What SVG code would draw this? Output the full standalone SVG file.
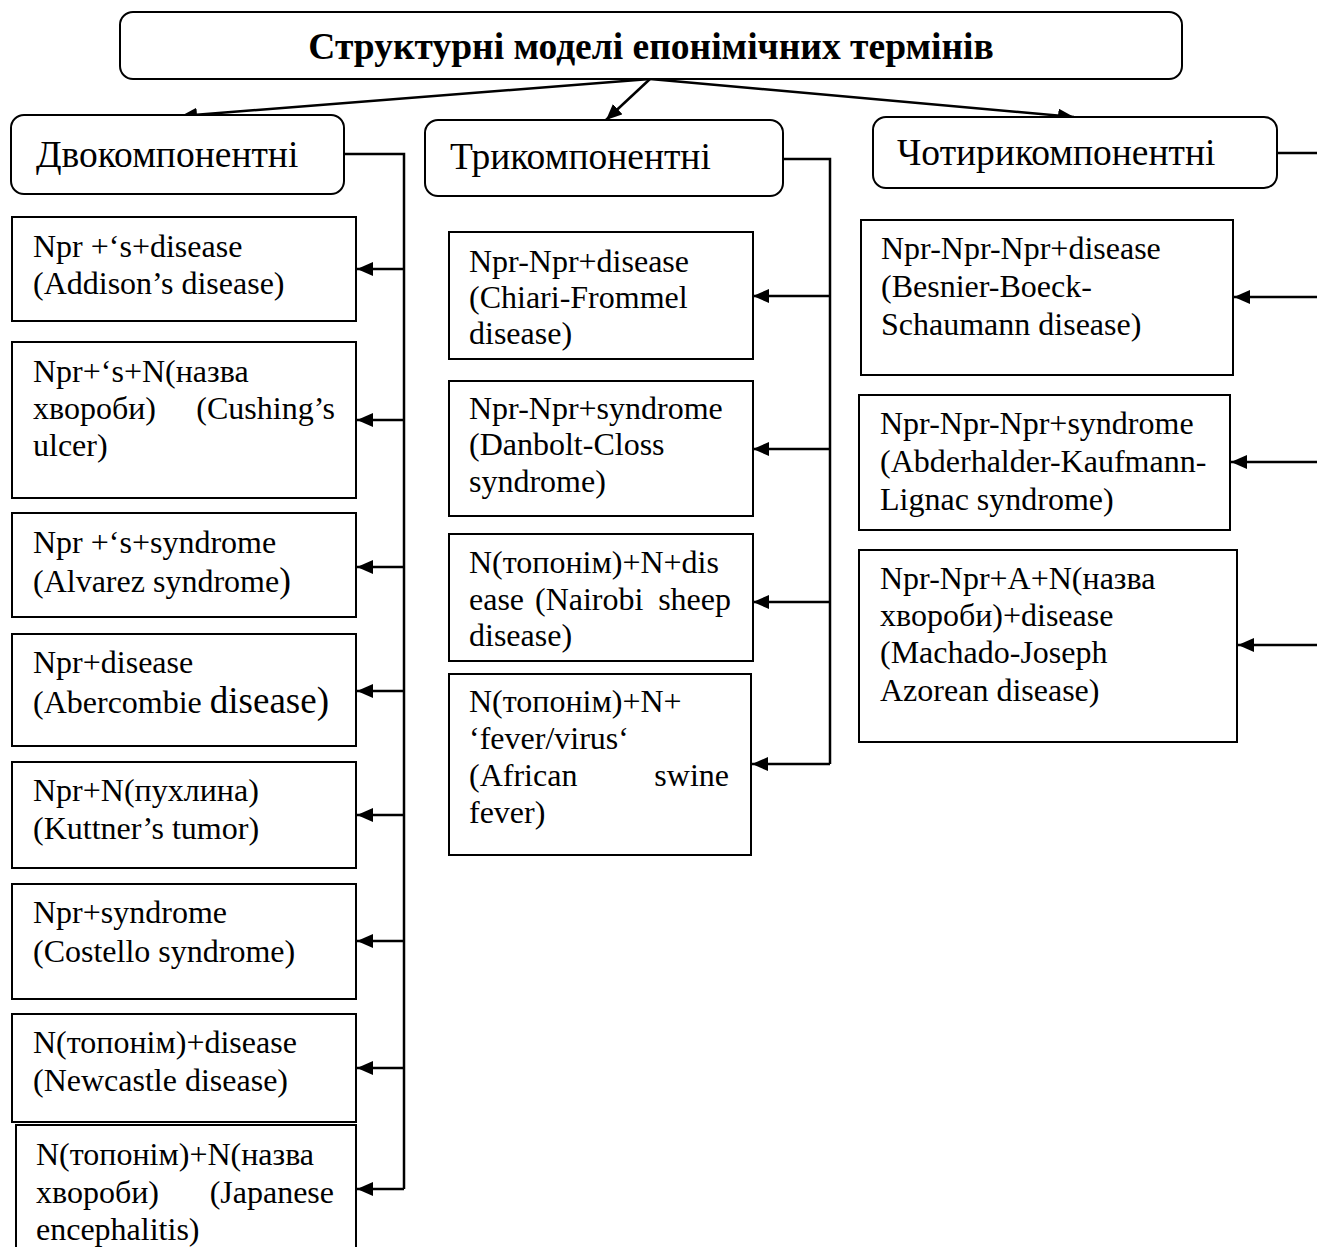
<svg xmlns="http://www.w3.org/2000/svg" width="1317" height="1247" viewBox="0 0 1317 1247">
<style>
text{font-family:"Liberation Serif","Times New Roman",serif;fill:#000}
.t{font-size:32px}
.h{font-size:37.5px}
.ttl{font-size:37.5px;font-weight:bold}
.box{fill:#fff;stroke:#000;stroke-width:2}
.c{fill:none;stroke:#000;stroke-width:2.5}
.e{text-anchor:end}
</style>
<defs>
<marker id="ah" markerUnits="userSpaceOnUse" markerWidth="18" markerHeight="14" refX="16" refY="7" orient="auto"><path d="M0,0 L16,7 L0,14 z" fill="#000"/></marker>
</defs>
<rect width="1317" height="1247" fill="#fff"/>

<g id="connectors">
<path class="c" d="M650,79 L181,116" marker-end="url(#ah)"/>
<path class="c" d="M650,79 L606,120" marker-end="url(#ah)"/>
<path class="c" d="M650,79 L1074,117" marker-end="url(#ah)"/>
<path class="c" d="M344,154 H404 V1189"/>
<path class="c" d="M404,269 H357" marker-end="url(#ah)"/>
<path class="c" d="M404,420 H357" marker-end="url(#ah)"/>
<path class="c" d="M404,567 H357" marker-end="url(#ah)"/>
<path class="c" d="M404,691 H357" marker-end="url(#ah)"/>
<path class="c" d="M404,815 H357" marker-end="url(#ah)"/>
<path class="c" d="M404,941 H357" marker-end="url(#ah)"/>
<path class="c" d="M404,1068 H357" marker-end="url(#ah)"/>
<path class="c" d="M404,1189 H357" marker-end="url(#ah)"/>
<path class="c" d="M783,159 H830 V764"/>
<path class="c" d="M830,296 H753" marker-end="url(#ah)"/>
<path class="c" d="M830,449 H753" marker-end="url(#ah)"/>
<path class="c" d="M830,602 H753" marker-end="url(#ah)"/>
<path class="c" d="M830,764 H752" marker-end="url(#ah)"/>
<path class="c" d="M1277,153 H1317"/>
<path class="c" d="M1317,297 H1234" marker-end="url(#ah)"/>
<path class="c" d="M1317,462 H1231" marker-end="url(#ah)"/>
<path class="c" d="M1317,645 H1238" marker-end="url(#ah)"/>
</g>

<g id="title">
<rect class="box" x="120" y="12" width="1062" height="67" rx="13"/>
<text class="ttl" x="651" y="59" text-anchor="middle">Структурні моделі епонімічних термінів</text>
</g>

<g id="dvo">
<rect class="box" x="11" y="115" width="333" height="79" rx="13"/>
<text class="h" x="36" y="167">Двокомпонентні</text>
</g>
<g id="try">
<rect class="box" x="425" y="120" width="358" height="76" rx="13"/>
<text class="h" x="450" y="169">Трикомпонентні</text>
</g>
<g id="chot">
<rect class="box" x="873" y="117" width="404" height="71" rx="13"/>
<text class="h" x="897" y="165">Чотирикомпонентні</text>
</g>

<g id="l1">
<rect class="box" x="12" y="217" width="344" height="104"/>
<text class="t" x="33" y="257">Npr +‘s+disease</text>
<text class="t" x="33" y="294">(Addison’s disease)</text>
</g>
<g id="l2">
<rect class="box" x="12" y="342" width="344" height="156"/>
<text class="t" x="33" y="382">Npr+‘s+N(назва</text>
<text class="t" x="33" y="419">хвороби)</text>
<text class="t e" x="335" y="419">(Cushing’s</text>
<text class="t" x="33" y="456">ulcer)</text>
</g>
<g id="l3">
<rect class="box" x="12" y="513" width="344" height="104"/>
<text class="t" x="33" y="553">Npr +‘s+syndrome</text>
<text class="t" x="33" y="592">(Alvarez syndrome<tspan font-size="35">)</tspan></text>
</g>
<g id="l4">
<rect class="box" x="12" y="634" width="344" height="112"/>
<text class="t" x="33" y="673">Npr+disease</text>
<text class="t" x="33" y="713">(Abercombie <tspan font-size="37">disease)</tspan></text>
</g>
<g id="l5">
<rect class="box" x="12" y="762" width="344" height="106"/>
<text class="t" x="33" y="801">Npr+N(пухлина)</text>
<text class="t" x="33" y="839">(Kuttner’s tumor)</text>
</g>
<g id="l6">
<rect class="box" x="12" y="884" width="344" height="115"/>
<text class="t" x="33" y="923">Npr+syndrome</text>
<text class="t" x="33" y="962">(Costello syndrome)</text>
</g>
<g id="l7">
<rect class="box" x="12" y="1014" width="344" height="108"/>
<text class="t" x="33" y="1053">N(топонім)+disease</text>
<text class="t" x="33" y="1091">(Newcastle disease)</text>
</g>
<g id="l8">
<rect class="box" x="16" y="1125" width="340" height="130"/>
<text class="t" x="36" y="1165">N(топонім)+N(назва</text>
<text class="t" x="36" y="1203">хвороби)</text>
<text class="t e" x="334" y="1203">(Japanese</text>
<text class="t" x="36" y="1240">encephalitis)</text>
</g>

<g id="m1">
<rect class="box" x="449" y="232" width="304" height="127"/>
<text class="t" x="469" y="272">Npr-Npr+disease</text>
<text class="t" x="469" y="308">(Chiari-Frommel</text>
<text class="t" x="469" y="344">disease)</text>
</g>
<g id="m2">
<rect class="box" x="449" y="381" width="304" height="135"/>
<text class="t" x="469" y="419">Npr-Npr+syndrome</text>
<text class="t" x="469" y="455">(Danbolt-Closs</text>
<text class="t" x="469" y="492">syndrome)</text>
</g>
<g id="m3">
<rect class="box" x="449" y="534" width="304" height="127"/>
<text class="t" x="469" y="573">N(топонім)+N+dis</text>
<text class="t" x="469" y="610">ease</text>
<text class="t" x="535" y="610">(Nairobi</text>
<text class="t e" x="731" y="610">sheep</text>
<text class="t" x="469" y="646">disease)</text>
</g>
<g id="m4">
<rect class="box" x="449" y="674" width="302" height="181"/>
<text class="t" x="469" y="712">N(топонім)+N+</text>
<text class="t" x="469" y="749">‘fever/virus‘</text>
<text class="t" x="469" y="786">(African</text>
<text class="t e" x="729" y="786">swine</text>
<text class="t" x="469" y="823">fever)</text>
</g>

<g id="r1">
<rect class="box" x="861" y="220" width="372" height="155"/>
<text class="t" x="881" y="259">Npr-Npr-Npr+disease</text>
<text class="t" x="881" y="297">(Besnier-Boeck-</text>
<text class="t" x="881" y="335">Schaumann disease)</text>
</g>
<g id="r2">
<rect class="box" x="859" y="395" width="371" height="135"/>
<text class="t" x="880" y="434">Npr-Npr-Npr+syndrome</text>
<text class="t" x="880" y="472">(Abderhalder-Kaufmann-</text>
<text class="t" x="880" y="510">Lignac syndrome)</text>
</g>
<g id="r3">
<rect class="box" x="859" y="550" width="378" height="192"/>
<text class="t" x="880" y="589">Npr-Npr+A+N(назва</text>
<text class="t" x="880" y="626">хвороби)+disease</text>
<text class="t" x="880" y="663">(Machado-Joseph</text>
<text class="t" x="880" y="701">Azorean disease)</text>
</g>
</svg>
